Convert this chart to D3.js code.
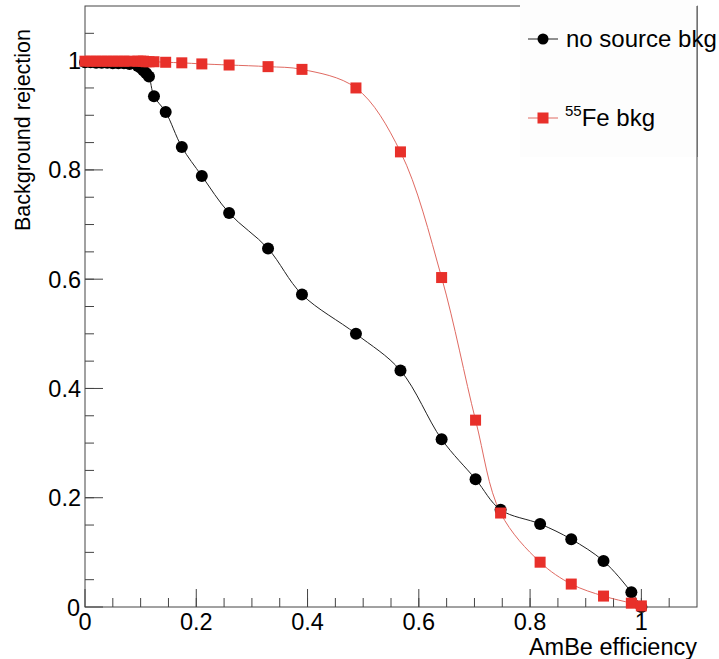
<!DOCTYPE html>
<html>
<head>
<meta charset="utf-8">
<script src="https://cdn.jsdelivr.net/npm/d3@7"></script>
<style>
  body { margin: 0; background: #fff; }
  text { font-family: 'Liberation Sans', Arial, Helvetica, sans-serif; }
</style>
</head>
<body>
<div id="chart"></div>
<script>
////////////////////////////////////////////////////////////////////////
// Data

// AmBe efficiency (shared by both curves)
let efficiency = [0.0, 0.01, 0.02, 0.03, 0.04, 0.05, 0.06, 0.07, 0.08, 0.095,
  0.1, 0.105, 0.11, 0.115, 0.124, 0.145, 0.174, 0.21, 0.259, 0.329, 0.39,
  0.487, 0.567, 0.641, 0.702, 0.747, 0.818, 0.874, 0.932, 0.982, 1.0]

// background rejection, no source
let noSource = [0.997, 0.997, 0.996, 0.996, 0.996, 0.995, 0.995, 0.995, 0.994, 0.99,
  0.987, 0.982, 0.977, 0.971, 0.935, 0.906, 0.842, 0.789, 0.721, 0.656, 0.572,
  0.5, 0.433, 0.307, 0.234, 0.178, 0.152, 0.124, 0.084, 0.027, 0.0]

// background rejection, 55Fe source
let fe55 = [0.999, 0.999, 0.999, 0.999, 0.999, 0.999, 0.999, 0.999, 0.999, 0.999,
  0.999, 0.999, 0.998, 0.998, 0.998, 0.997, 0.996, 0.994, 0.992, 0.989, 0.984,
  0.95, 0.833, 0.603, 0.342, 0.172, 0.082, 0.042, 0.02, 0.007, 0.002]

let majorTicks = [0, 0.2, 0.4, 0.6, 0.8, 1]
let minorTicks = d3.range(0, 21).map(i => i * 0.05 + 0.05).filter(v => v < 1.09)

let xTitle = 'AmBe efficiency'
let yTitle = 'Background rejection'

////////////////////////////////////////////////////////////////////////
// Layout

let width = 719
let height = 659
let frameLeft = 85
let frameRight = 697
let frameTop = 6
let frameBottom = 607

let black = '#000000'
let red = '#e8302a'

let svg = d3
  .select('#chart')
  .append('svg')
  .attr('width', width)
  .attr('height', height)

let xScale = d3.scaleLinear().domain([0, 1.1]).range([frameLeft, frameRight])
let yScale = d3.scaleLinear().domain([0, 1.1]).range([frameBottom, frameTop])

// frame
svg
  .append('rect')
  .attr('x', frameLeft)
  .attr('y', frameTop)
  .attr('width', frameRight - frameLeft)
  .attr('height', frameBottom - frameTop)
  .attr('fill', 'none')
  .attr('stroke', '#444')
  .attr('stroke-width', 1)

// ticks, pointing inside the frame
let tickColor = '#444'
let ticks = svg.append('g').attr('stroke', tickColor).attr('stroke-width', 1)
ticks
  .selectAll('.xmaj')
  .data(majorTicks)
  .enter()
  .append('line')
  .attr('x1', d => xScale(d))
  .attr('x2', d => xScale(d))
  .attr('y1', frameBottom)
  .attr('y2', frameBottom - 18)
ticks
  .selectAll('.xmin')
  .data(minorTicks)
  .enter()
  .append('line')
  .attr('x1', d => xScale(d))
  .attr('x2', d => xScale(d))
  .attr('y1', frameBottom)
  .attr('y2', frameBottom - 9)
ticks
  .selectAll('.ymaj')
  .data(majorTicks)
  .enter()
  .append('line')
  .attr('x1', frameLeft)
  .attr('x2', frameLeft + 18)
  .attr('y1', d => yScale(d))
  .attr('y2', d => yScale(d))
ticks
  .selectAll('.ymin')
  .data(minorTicks)
  .enter()
  .append('line')
  .attr('x1', frameLeft)
  .attr('x2', frameLeft + 9)
  .attr('y1', d => yScale(d))
  .attr('y2', d => yScale(d))

// tick labels
let fmt = d => (d === 0 || d === 1 ? String(d) : d.toFixed(1))
svg
  .append('g')
  .selectAll('text')
  .data(majorTicks)
  .enter()
  .append('text')
  .attr('x', d => xScale(d))
  .attr('y', frameBottom + 23)
  .attr('text-anchor', 'middle')
  .attr('font-size', 23.5)
  .attr('fill', '#000')
  .text(fmt)
svg
  .append('g')
  .selectAll('text')
  .data(majorTicks)
  .enter()
  .append('text')
  .attr('x', d => (d === 0 ? frameLeft - 5 : frameLeft - 4))
  .attr('y', d => yScale(d) + 8.5)
  .attr('text-anchor', 'end')
  .attr('font-size', 23.5)
  .attr('fill', '#000')
  .text(fmt)

// axis titles
svg
  .append('text')
  .attr('x', frameRight)
  .attr('y', 655)
  .attr('text-anchor', 'end')
  .attr('font-size', 23.5)
  .text(xTitle)
svg
  .append('text')
  .attr('transform', 'translate(30,' + 29 + ') rotate(-90)')
  .attr('text-anchor', 'end')
  .attr('font-size', 21.5)
  .text(yTitle)

////////////////////////////////////////////////////////////////////////
// Curves (smooth line through points, like ROOT's "C" option)

let line = d3
  .line()
  .x(d => xScale(d[0]))
  .y(d => yScale(d[1]))
  .curve(d3.curveCatmullRom.alpha(0.5))

let blackPts = efficiency.map((e, i) => [e, noSource[i]])
let redPts = efficiency.map((e, i) => [e, fe55[i]])

svg
  .append('path')
  .datum(blackPts)
  .attr('fill', 'none')
  .attr('stroke', '#222')
  .attr('stroke-width', 1)
  .attr('d', line)

svg
  .append('path')
  .datum(redPts)
  .attr('fill', 'none')
  .attr('stroke', '#e06a62')
  .attr('stroke-width', 1)
  .attr('d', line)

svg
  .append('g')
  .selectAll('circle')
  .data(blackPts)
  .enter()
  .append('circle')
  .attr('cx', d => xScale(d[0]))
  .attr('cy', d => yScale(d[1]))
  .attr('r', 6)
  .attr('fill', black)

let sq = 11
svg
  .append('g')
  .selectAll('rect')
  .data(redPts)
  .enter()
  .append('rect')
  .attr('x', d => xScale(d[0]) - sq / 2)
  .attr('y', d => yScale(d[1]) - sq / 2)
  .attr('width', sq)
  .attr('height', sq)
  .attr('fill', red)

////////////////////////////////////////////////////////////////////////
// Legend (box covers the top of the frame)

svg
  .append('rect')
  .attr('x', 520)
  .attr('y', 0)
  .attr('width', frameRight - 520)
  .attr('height', 157)
  .attr('fill', '#fdfdfd')

svg
  .append('line')
  .attr('x1', frameRight)
  .attr('x2', frameRight)
  .attr('y1', frameTop)
  .attr('y2', 157)
  .attr('stroke', '#444')

let legend = svg.append('g')
// no source bkg
legend
  .append('line')
  .attr('x1', 528)
  .attr('x2', 558)
  .attr('y1', 39)
  .attr('y2', 39)
  .attr('stroke', '#222')
legend
  .append('circle')
  .attr('cx', 543)
  .attr('cy', 39)
  .attr('r', 5.5)
  .attr('fill', black)
legend
  .append('text')
  .attr('x', 566)
  .attr('y', 47)
  .attr('font-size', 24)
  .text('no source bkg')

// 55Fe bkg
legend
  .append('line')
  .attr('x1', 528)
  .attr('x2', 558)
  .attr('y1', 118)
  .attr('y2', 118)
  .attr('stroke', '#e06a62')
legend
  .append('rect')
  .attr('x', 543 - sq / 2)
  .attr('y', 118 - sq / 2)
  .attr('width', sq)
  .attr('height', sq)
  .attr('fill', red)
let feText = legend
  .append('text')
  .attr('x', 565)
  .attr('y', 126)
  .attr('font-size', 24)
feText
  .append('tspan')
  .attr('font-size', 15)
  .attr('dy', -10)
  .text('55')
feText
  .append('tspan')
  .attr('dy', 10)
  .text('Fe bkg')
</script>
</body>
</html>
